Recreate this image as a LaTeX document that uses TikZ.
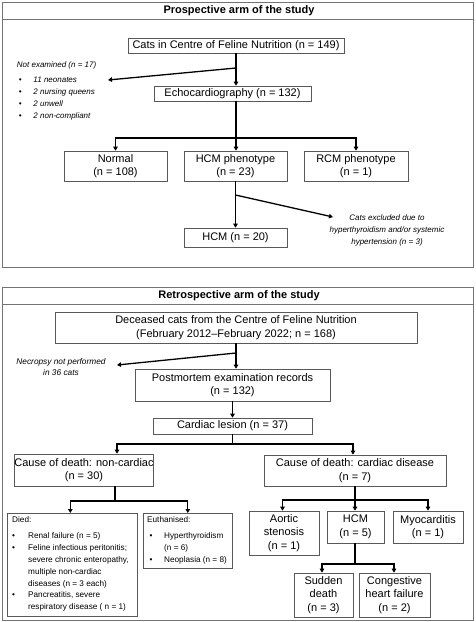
\documentclass[tikz,border=0pt]{standalone}
\usepackage{fontspec}
\setmainfont{Liberation Sans}
\usetikzlibrary{arrows.meta}
\newcommand\bulA{\makebox[14.7pt][l]{\textbullet}}
\newcommand\bulB{\makebox[16pt][l]{\textbullet}}
\newcommand\bulC{\hspace*{2.5pt}\makebox[14.5pt][l]{\textbullet}}
\begin{document}
\begin{tikzpicture}[x=1pt,y=-1pt,
 box/.style={draw=black!65, line width=0.6pt, align=center, inner sep=0pt, font=\fontsize{11}{13.5}\selectfont},
 conn/.style={line width=1.3pt, draw=black},
 arr/.style={conn, -{Triangle[length=4pt,width=4.5pt]}},
 note/.style={font=\fontsize{8}{12}\selectfont\itshape, inner sep=0pt},
 list/.style={font=\fontsize{8.2}{11.8}\selectfont, inner sep=0pt, align=left},
 panel/.style={draw=black!55, line width=0.7pt},
 ptitle/.style={font=\fontsize{11}{13}\selectfont\bfseries, inner sep=0pt}]
\useasboundingbox (0,0) rectangle (475,622);
\fill[white] (0,0) rectangle (475,622);

% ---------- Panel 1 ----------
\draw[panel] (2,2) rectangle (473,267);
\draw[panel] (2,19) -- (473,19);
\node[ptitle] (t1) at (239,11) {Prospective arm of the study};

\node[box, minimum width=216, minimum height=15] (cats) at (236,45.5) {Cats in Centre of Feline Nutrition (n = 149)};
\node[box, minimum width=157, minimum height=15] (echo) at (232.5,93.5) {Echocardiography (n = 132)};
\node[box, minimum width=103, minimum height=30] (normal) at (115.5,166) {Normal\\(n = 108)};
\node[box, minimum width=103, minimum height=30] (hcmp) at (235.5,166) {HCM phenotype\\(n = 23)};
\node[box, minimum width=104, minimum height=30] (rcm) at (356,166) {RCM phenotype\\(n = 1)};
\node[box, minimum width=103, minimum height=19] (hcm20) at (235.5,237.5) {HCM (n = 20)};

\node[note, anchor=west] (notex) at (16.7,65) {Not examined (n = 17)};
\node[note, anchor=west, align=left] (nelist) at (18.6,99) {\bulA 11 neonates\\\bulA 2 nursing queens\\\bulA 2 unwell\\\bulA 2 non-compliant};
\node[note, align=center] (excl) at (387,230) {Cats excluded due to\\hyperthyroidism and/or systemic\\hypertension (n = 3)};

\coordinate (j1) at (236,68);
\coordinate (e1) at (108,80);
\coordinate (bar1) at (236,138);
\coordinate (j2) at (235.5,195);
\coordinate (e2) at (333,217);

\draw[arr] (cats.south) -- (cats.south |- echo.north);
\draw[arr] (j1) -- (e1);
\draw[conn] (echo.south -| cats.south) -- (bar1);
\draw[arr] (bar1) -| (normal.north);
\draw[arr] (bar1) -- (bar1 |- hcmp.north);
\draw[arr] (bar1) -| (rcm.north);
\draw[arr] (hcmp.south) -- (hcm20.north);
\draw[arr] (j2) -- (e2);

% ---------- Panel 2 ----------
\draw[panel] (2,287) rectangle (473,620);
\draw[panel] (2,304) -- (473,304);
\node[ptitle] (t2) at (239,296) {Retrospective arm of the study};

\node[box, minimum width=362, minimum height=31] (dec) at (236,327.5) {Deceased cats from the Centre of Feline Nutrition\\(February 2012–February 2022; n = 168)};
\node[box, minimum width=195, minimum height=32] (post) at (232.5,385) {Postmortem examination records\\(n = 132)};
\node[box, minimum width=159, minimum height=16] (card) at (232.5,426) {Cardiac lesion (n = 37)};
\node[box, minimum width=108, minimum height=32] (noncard) at (84,470) {Cause of death: non-cardiac\\(n = 30)};
\node[box, minimum width=182, minimum height=31] (cardis) at (355,470.5) {Cause of death: cardiac disease\\(n = 7)};

\node[note, align=center, font=\fontsize{8.3}{11}\selectfont\itshape] (necro) at (61,367.5) {Necropsy not performed\\in 36 cats};

\node[box, anchor=north west, minimum width=130, minimum height=103] (died) at (7,513) {};
\node[list, anchor=west] (diedtxt) at (12,564) {Died:\\[4.5pt]\bulB Renal failure (n = 5)\\\bulB Feline infectious peritonitis;\\\hspace*{16pt}severe chronic enteropathy,\\\hspace*{16pt}multiple non-cardiac\\\hspace*{16pt}diseases (n = 3 each)\\\bulB Pancreatitis, severe\\\hspace*{16pt}respiratory disease ( n = 1)};
\node[box, anchor=north west, minimum width=89, minimum height=55] (euth) at (143,513) {};
\node[list, anchor=west] (euthtxt) at (147,540) {Euthanised:\\[4.5pt]\bulC Hyperthyroidism\\\hspace*{17pt}(n = 6)\\\bulC Neoplasia (n = 8)};

\node[box, minimum width=70, minimum height=44] (aortic) at (284,533) {Aortic\\stenosis\\(n = 1)};
\node[box, minimum width=57, minimum height=32] (hcm5) at (355.5,527) {HCM\\(n = 5)};
\node[box, minimum width=70, minimum height=32] (myo) at (428,527) {Myocarditis\\(n = 1)};
\node[box, minimum width=59, minimum height=44] (sudden) at (323.5,595) {Sudden\\death\\(n = 3)};
\node[box, minimum width=71, minimum height=44] (chf) at (394.5,595) {Congestive\\heart failure\\(n = 2)};

\coordinate (j3) at (236,353);
\coordinate (e3) at (117,365);
\coordinate (bar3) at (232.5,444);
\coordinate (bar4) at (115,501);
\coordinate (bar5) at (355,500);
\coordinate (bar6) at (355,564);

\draw[arr] (dec.south) -- (dec.south |- post.north);
\draw[arr] (j3) -- (e3);
\draw[arr] (post.south) -- (card.north);
\draw[conn] (card.south) -- (bar3);
\draw[arr] (bar3) -| ([xshift=33]noncard.north);
\draw[arr] (bar3) -| ([xshift=-2]cardis.north);
\draw[conn] ([xshift=31]noncard.south) -- (bar4);
\draw[arr] (bar4) -| ([xshift=-2]died.north);
\draw[arr] (bar4) -| (euth.north);
\draw[conn] (cardis.south) -- (bar5);
\draw[arr] (bar5) -| ([xshift=-1.5]aortic.north);
\draw[arr] (bar5) -- (bar5 |- hcm5.north);
\draw[arr] (bar5) -| (myo.north);
\draw[conn] (bar5 |- hcm5.south) -- (bar6);
\draw[arr] (bar6) -| ([xshift=-1.5]sudden.north);
\draw[arr] (bar6) -| ([xshift=-0.5]chf.north);
\end{tikzpicture}
\end{document}
